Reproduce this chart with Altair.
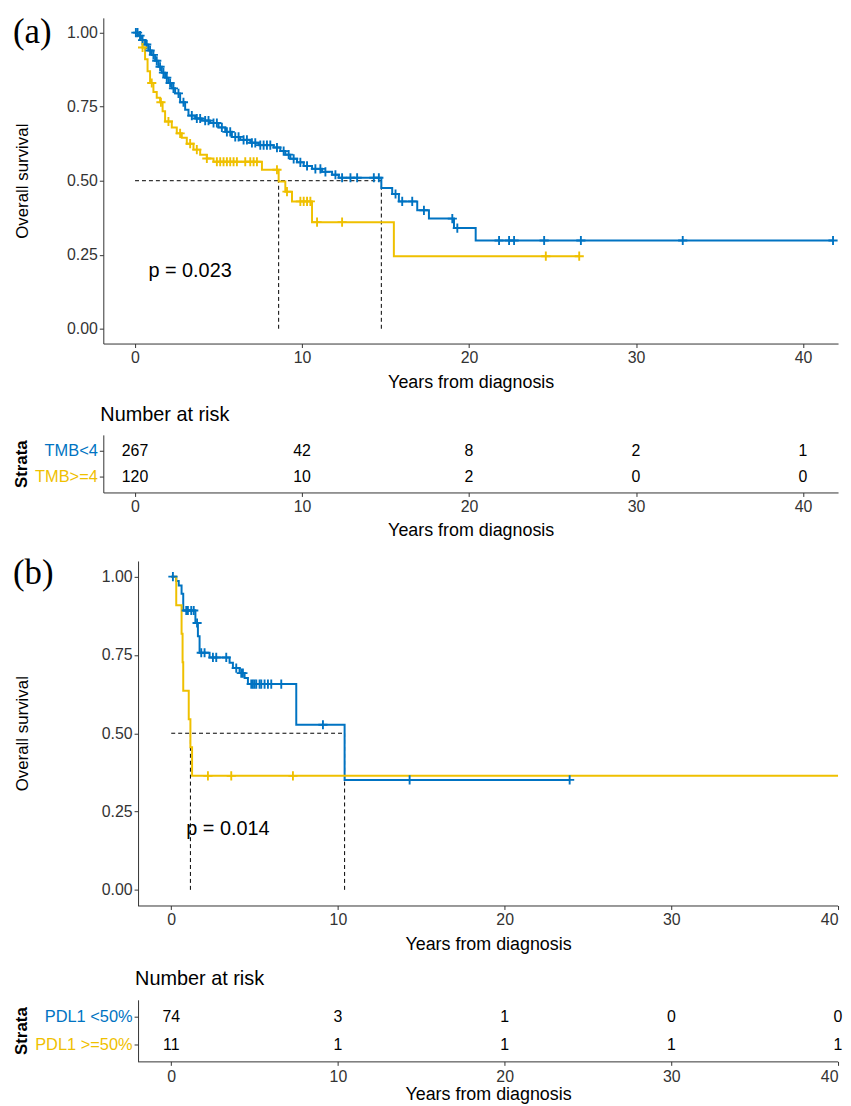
import altair as alt
import pandas as pd

FONT = "Liberation Sans"
BLUE = "#0073C2"
YELLOW = "#EFC000"
INK = "#333333"
TICKS = [0, 10, 20, 30, 40]
PLUS = "M-1,0L1,0M0,-1L0,1"

# ---------------- Panel (a): TMB ----------------
A_GROUPS = ["TMB<4", "TMB>=4"]
A_BLUE_T = [0, 0.2, 0.4, 0.6, 0.8, 1.0, 1.2, 1.4, 1.6, 1.8, 2.0, 2.2, 2.4, 2.7, 3.0, 3.2, 3.6, 4.0, 4.5,
            5.0, 5.4, 5.8, 6.3, 6.9, 7.4, 8.3, 8.7, 9.0, 9.3, 9.7, 10.1, 10.6, 11.2, 11.8, 12.2, 14.75,
            15.4, 15.8, 16.9, 17.6, 19.1, 20.4, 41.8]
A_BLUE_S = [1.0, 0.99, 0.975, 0.96, 0.94, 0.925, 0.905, 0.885, 0.865, 0.848, 0.83, 0.812, 0.795, 0.765,
            0.74, 0.72, 0.71, 0.703, 0.695, 0.68, 0.665, 0.648, 0.638, 0.628, 0.62, 0.612, 0.60, 0.588,
            0.574, 0.562, 0.55, 0.54, 0.53, 0.52, 0.51, 0.475, 0.455, 0.43, 0.40, 0.372, 0.34, 0.298, 0.298]
A_BLUE_CENSOR = [0.05, 0.15, 0.3, 0.45, 0.7, 0.9, 1.1, 1.3, 1.5, 1.7, 1.9, 2.1, 2.3, 2.6, 2.9, 3.4, 3.7,
                 3.9, 4.2, 4.4, 4.7, 4.9, 5.2, 5.5, 5.7, 6.0, 6.2, 6.5, 6.7, 7.0, 7.2, 7.5, 7.7, 7.9, 8.1,
                 8.5, 8.9, 9.2, 9.5, 9.9, 10.3, 10.8, 11.1, 11.4, 12.0, 12.4, 12.9, 13.3, 14.3, 14.6,
                 15.6, 16.0, 16.6, 17.3, 19.0, 19.3, 21.8, 22.4, 22.7, 24.5, 26.7, 32.8, 41.8]
A_YEL_T = [0, 0.3, 0.45, 0.6, 0.75, 0.9, 1.1, 1.3, 1.5, 1.65, 1.8, 2.2, 2.5, 2.8, 3.1, 3.5, 3.9, 4.3,
           4.7, 7.6, 8.6, 9.0, 9.4, 10.6, 15.5, 26.6]
A_YEL_S = [1.0, 0.975, 0.95, 0.91, 0.87, 0.83, 0.80, 0.78, 0.765, 0.735, 0.70, 0.68, 0.66, 0.645, 0.625,
           0.605, 0.588, 0.575, 0.564, 0.537, 0.497, 0.463, 0.43, 0.36, 0.245, 0.245]
A_YEL_CENSOR = [0.45, 1.0, 1.55, 2.0, 2.7, 3.3, 3.7, 4.3, 4.9, 5.1, 5.3, 5.5, 5.7, 5.9, 6.1, 6.6, 6.9,
                7.1, 7.3, 8.5, 9.1, 9.9, 10.1, 10.3, 10.5, 10.9, 12.4, 24.6, 26.6]
A_MEDIANS = [14.75, 8.6]
A_PVAL = "p = 0.023"
A_PVAL_AT = (0.8, 0.195)
A_RISK_TOP = [267, 42, 8, 2, 1]
A_RISK_BOTTOM = [120, 10, 2, 0, 0]

# ---------------- Panel (b): PDL1 ----------------
B_GROUPS = ["PDL1 <50%", "PDL1 >=50%"]
B_BLUE_T = [0, 0.3, 0.45, 0.62, 0.72, 1.45, 1.6, 1.7, 2.3, 3.5, 3.7, 4.1, 4.4, 4.6, 7.5, 10.4, 23.9]
B_BLUE_S = [1.0, 0.986, 0.972, 0.945, 0.892, 0.852, 0.81, 0.757, 0.742, 0.725, 0.708, 0.692, 0.676,
            0.657, 0.527, 0.351, 0.351]
B_BLUE_CENSOR = [0.1, 0.9, 1.0, 1.2, 1.35, 1.55, 1.8, 2.0, 2.5, 2.7, 3.3, 3.9, 4.2, 4.3, 4.8, 4.9, 5.0,
                 5.1, 5.3, 5.4, 5.6, 5.8, 6.0, 6.6, 9.1, 14.3, 23.9]
B_YEL_T = [0, 0.3, 0.62, 0.68, 0.72, 1.05, 1.15, 1.25, 40.9]
B_YEL_S = [1.0, 0.909, 0.818, 0.727, 0.636, 0.545, 0.455, 0.364, 0.364]
B_YEL_CENSOR = [2.2, 3.6, 7.3, 40.9]
B_MEDIANS = [10.4, 1.15]
B_PVAL = "p = 0.014"
B_PVAL_AT = (0.9, 0.194)
B_RISK_TOP = [74, 3, 1, 0, 0]
B_RISK_BOTTOM = [11, 1, 1, 1, 1]


def surv_at(ts, ss, x):
    val = ss[0]
    for t, s in zip(ts, ss):
        if t <= x:
            val = s
        else:
            break
    return val


def steps_frame(groups, curves):
    rows = []
    for g, (ts, ss) in zip(groups, curves):
        for t, s in zip(ts, ss):
            rows.append({"g": g, "t": t, "s": s})
    return pd.DataFrame(rows)


def censor_frame(groups, curves, censors):
    rows = []
    for g, (ts, ss), cs in zip(groups, curves, censors):
        for c in cs:
            rows.append({"g": g, "t": c, "s": surv_at(ts, ss, c)})
    return pd.DataFrame(rows)


def median_frame(medians):
    rows = [{"t": 0.0, "t2": max(medians), "s": 0.5, "s2": 0.5}]
    for m in medians:
        rows.append({"t": m, "t2": m, "s": 0.0, "s2": 0.5})
    return pd.DataFrame(rows)


def km_panel(groups, curves, censors, medians, ptext, p_at, tag, tag_y, x_dom, shift, width, height):
    xs = alt.Scale(domain=x_dom, range=[shift, width], nice=False, zero=False)
    ys = alt.Scale(domain=[-0.05, 1.05], nice=False, zero=False)
    cs = alt.Scale(domain=groups, range=[BLUE, YELLOW])
    xax = alt.Axis(values=TICKS, title="Years from diagnosis", domain=(shift == 0), format="d")
    yax = alt.Axis(values=[0, 0.25, 0.5, 0.75, 1.0], format=".2f", title="Overall survival",
                   offset=-shift, titlePadding=35 + shift)
    X = alt.X("t:Q", scale=xs, axis=xax)
    Y = alt.Y("s:Q", scale=ys, axis=yax)
    col = alt.Color("g:N", scale=cs, legend=None)

    med = alt.Chart(median_frame(medians)).mark_rule(
        color="black", strokeDash=[4, 3], strokeWidth=1).encode(x=X, x2="t2:Q", y=Y, y2="s2:Q")
    lines = alt.Chart(steps_frame(groups, curves)).mark_line(
        interpolate="step-after", strokeWidth=2, clip=True).encode(x=X, y=Y, color=col)
    marks = alt.Chart(censor_frame(groups, curves, censors)).mark_point(
        shape=PLUS, filled=False, size=85, strokeWidth=1.9, opacity=1, clip=True).encode(
        x=X, y=Y, color=col)
    ptxt = alt.Chart(pd.DataFrame({"t": [p_at[0]], "s": [p_at[1]], "lab": [ptext]})).mark_text(
        font=FONT, fontSize=20, align="left", baseline="middle", color="black").encode(
        x=X, y=Y, text="lab:N")
    tagc = alt.Chart(pd.DataFrame({"lab": [tag]})).mark_text(
        font="Liberation Serif", fontSize=35, align="left", baseline="top", color="black").encode(
        x=alt.value(-91), y=alt.value(tag_y), text="lab:N")
    layers = [med, lines, marks, ptxt, tagc]
    if shift:
        dom = alt.Chart(pd.DataFrame({"t": [x_dom[0]], "t2": [x_dom[1]]})).mark_rule(
            color=INK, strokeWidth=1).encode(x=X, x2="t2:Q", y=alt.value(height + 0.5))
        layers.append(dom)
    return alt.layer(*layers).properties(width=width, height=height)


def risk_panel(groups, top, bottom, x_dom, shift, width, height, title_offset, strata_pad,
               xtitle_pad, xlabel_pad):
    rows = []
    for t, n in zip(TICKS, top):
        rows.append({"t": t, "r": 2, "n": n})
    for t, n in zip(TICKS, bottom):
        rows.append({"t": t, "r": 1, "n": n})
    df = pd.DataFrame(rows)
    xs = alt.Scale(domain=x_dom, range=[shift, width], nice=False, zero=False)
    ys = alt.Scale(domain=[0.4, 2.6], nice=False, zero=False)
    xax = alt.Axis(values=TICKS, title="Years from diagnosis", domain=(shift == 0), format="d",
                   titlePadding=xtitle_pad, labelPadding=xlabel_pad)
    yax = alt.Axis(values=[1, 2],
                   labelExpr=f"datum.value == 2 ? '{groups[0]}' : '{groups[1]}'",
                   labelColor={"condition": {"test": "datum.value == 2", "value": BLUE}, "value": YELLOW},
                   labelFontSize=16.5, title="Strata", titleFontWeight="bold", titleFontSize=17,
                   titlePadding=strata_pad, offset=-shift)
    X = alt.X("t:Q", scale=xs, axis=xax)
    Y = alt.Y("r:Q", scale=ys, axis=yax)
    txt = alt.Chart(df).mark_text(font=FONT, fontSize=16, color="black").encode(x=X, y=Y, text="n:Q")
    layers = [txt]
    if shift:
        dom = alt.Chart(pd.DataFrame({"t": [x_dom[0]], "t2": [x_dom[1]]})).mark_rule(
            color=INK, strokeWidth=1).encode(x=X, x2="t2:Q", y=alt.value(height + 0.5))
        layers.append(dom)
    return alt.layer(*layers).properties(
        width=width, height=height,
        title=alt.TitleParams("Number at risk", anchor="start", frame="group", offset=title_offset,
                              dx=shift - 3, fontSize=20, font=FONT, fontWeight="normal"))


A_DOM = [-1.9, 42.1]
B_DOM = [-1.99, 40.0]
W = 740

panel_a = km_panel(A_GROUPS, [(A_BLUE_T, A_BLUE_S), (A_YEL_T, A_YEL_S)], [A_BLUE_CENSOR, A_YEL_CENSOR],
                   A_MEDIANS, A_PVAL, A_PVAL_AT, "(a)", -3, A_DOM, 0, W, 328)
risk_a = risk_panel(A_GROUPS, A_RISK_TOP, A_RISK_BOTTOM, A_DOM, 0, W, 58, 10, 4, 7, 2)
panel_b = km_panel(B_GROUPS, [(B_BLUE_T, B_BLUE_S), (B_YEL_T, B_YEL_S)], [B_BLUE_CENSOR, B_YEL_CENSOR],
                   B_MEDIANS, B_PVAL, B_PVAL_AT, "(b)", -5, B_DOM, 35, W, 347)
risk_b = risk_panel(B_GROUPS, B_RISK_TOP, B_RISK_BOTTOM, B_DOM, 35, W, 62, 11, 4, 1, 3)

top = alt.vconcat(panel_a, risk_a, spacing=14)
bottom = alt.vconcat(panel_b, risk_b, spacing=16)
chart = alt.vconcat(top, bottom, spacing=17).properties(
    padding={"left": 4, "top": 3, "right": 0, "bottom": 0})

chart = chart.configure_view(stroke=None).configure_axis(
    labelFont=FONT, titleFont=FONT, labelFontSize=16, labelColor=INK,
    titleColor="black", titleFontWeight="normal", domainColor=INK, tickColor=INK, grid=False,
    tickSize=4, labelPadding=2, titlePadding=8, domainWidth=1, tickWidth=1
).configure_axisX(titleFontSize=18).configure_axisY(titleFontSize=17).configure_title(
    font=FONT, color="black")

chart.save("out.html", embed_options={"renderer": "svg", "actions": False})
